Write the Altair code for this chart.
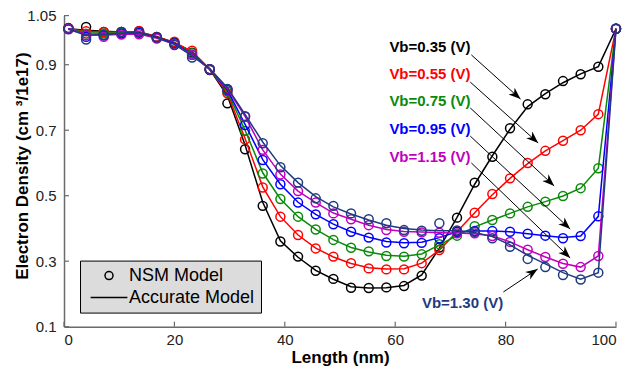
import math
import altair as alt
import pandas as pd

# ---------------- data ----------------
X_NM = [0.8, 4.0, 7.2, 10.4, 13.6, 16.8, 20.0, 23.2, 26.4, 29.6, 32.8, 36.0,
        39.2, 42.4, 45.6, 48.8, 52.0, 55.2, 58.4, 61.6, 64.8, 68.0, 71.2, 74.4,
        77.6, 80.8, 84.0, 87.2, 90.4, 93.6, 96.8, 100.0]

SERIES = ["Vb=0.35 (V)", "Vb=0.55 (V)", "Vb=0.75 (V)", "Vb=0.95 (V)", "Vb=1.15 (V)", "Vb=1.30 (V)"]
COLORS = ["#000000", "#ff0000", "#0a8a0a", "#0000ff", "#bf00bf", "#1f3a80"]

# NSM model (circles)
NSM_035 = [1.012, 1.015, 1.000, 1.000, 1.002, 0.985, 0.968, 0.937, 0.884, 0.782, 0.642, 0.469,
           0.360, 0.314, 0.271, 0.246, 0.219, 0.218, 0.220, 0.224, 0.256, 0.342, 0.433, 0.540,
           0.619, 0.706, 0.779, 0.810, 0.850, 0.871, 0.894, 1.010]
NSM_055 = [1.010, 1.002, 1.000, 1.000, 1.003, 0.985, 0.970, 0.943, 0.886, 0.813, 0.672, 0.525,
           0.436, 0.380, 0.339, 0.314, 0.294, 0.278, 0.275, 0.275, 0.294, 0.334, 0.390, 0.448,
           0.505, 0.553, 0.600, 0.637, 0.668, 0.700, 0.749, 1.010]
NSM_075 = [1.010, 0.995, 0.995, 0.998, 0.998, 0.983, 0.965, 0.935, 0.886, 0.818, 0.698, 0.568,
           0.490, 0.436, 0.397, 0.365, 0.341, 0.330, 0.316, 0.314, 0.321, 0.352, 0.378, 0.407,
           0.426, 0.446, 0.466, 0.482, 0.499, 0.523, 0.584, 1.010]
NSM_095 = [1.010, 0.985, 0.990, 0.995, 0.998, 0.983, 0.965, 0.930, 0.886, 0.823, 0.716, 0.609,
           0.535, 0.479, 0.443, 0.413, 0.390, 0.372, 0.357, 0.355, 0.356, 0.370, 0.390, 0.392,
           0.392, 0.390, 0.384, 0.378, 0.370, 0.377, 0.437, 1.010]
NSM_115 = [1.010, 0.990, 0.985, 0.992, 0.993, 0.980, 0.963, 0.930, 0.886, 0.825, 0.741, 0.640,
           0.565, 0.514, 0.479, 0.446, 0.428, 0.410, 0.395, 0.390, 0.388, 0.387, 0.385, 0.385,
           0.377, 0.359, 0.335, 0.313, 0.292, 0.282, 0.316, 1.010]
NSM_130 = [1.008, 0.977, 0.990, 1.000, 1.000, 0.983, 0.960, 0.922, 0.886, 0.826, 0.743, 0.660,
           0.587, 0.540, 0.492, 0.469, 0.446, 0.428, 0.416, 0.395, 0.393, 0.416, 0.394, 0.390,
           0.370, 0.344, 0.307, 0.282, 0.258, 0.244, 0.265, 1.010]

# Accurate model (lines)
ACC_035 = [1.010, 1.005, 1.002, 1.000, 1.000, 0.986, 0.967, 0.940, 0.886, 0.805, 0.655, 0.480,
           0.362, 0.312, 0.272, 0.245, 0.222, 0.218, 0.219, 0.226, 0.258, 0.340, 0.434, 0.535,
           0.622, 0.703, 0.772, 0.812, 0.845, 0.872, 0.894, 1.010]
ACC_055 = [1.010, 1.002, 1.000, 1.000, 1.001, 0.985, 0.968, 0.940, 0.886, 0.812, 0.675, 0.527,
           0.436, 0.380, 0.340, 0.313, 0.293, 0.280, 0.276, 0.277, 0.294, 0.334, 0.390, 0.448,
           0.503, 0.553, 0.598, 0.637, 0.668, 0.700, 0.749, 1.010]
ACC_075 = [1.010, 0.998, 0.996, 0.998, 0.998, 0.983, 0.965, 0.935, 0.886, 0.818, 0.700, 0.570,
           0.490, 0.436, 0.397, 0.366, 0.342, 0.328, 0.318, 0.315, 0.322, 0.350, 0.378, 0.405,
           0.426, 0.446, 0.466, 0.482, 0.499, 0.523, 0.584, 1.010]
ACC_095 = [1.010, 0.992, 0.992, 0.995, 0.997, 0.983, 0.965, 0.932, 0.886, 0.823, 0.718, 0.610,
           0.535, 0.480, 0.443, 0.413, 0.390, 0.373, 0.360, 0.356, 0.358, 0.372, 0.390, 0.392,
           0.392, 0.390, 0.384, 0.378, 0.372, 0.377, 0.437, 1.010]
ACC_115 = [1.010, 0.992, 0.990, 0.993, 0.994, 0.981, 0.963, 0.930, 0.886, 0.826, 0.742, 0.640,
           0.566, 0.514, 0.479, 0.447, 0.428, 0.410, 0.397, 0.391, 0.389, 0.387, 0.386, 0.384,
           0.377, 0.359, 0.335, 0.313, 0.293, 0.282, 0.316, 1.010]
ACC_130 = [1.008, 0.990, 0.992, 0.995, 0.997, 0.983, 0.962, 0.927, 0.888, 0.830, 0.748, 0.664,
           0.592, 0.540, 0.497, 0.466, 0.444, 0.426, 0.410, 0.400, 0.395, 0.393, 0.393, 0.388,
           0.375, 0.350, 0.318, 0.292, 0.265, 0.245, 0.265, 1.010]

NSM = [NSM_035, NSM_055, NSM_075, NSM_095, NSM_115, NSM_130]
ACC = [ACC_035, ACC_055, ACC_075, ACC_095, ACC_115, ACC_130]

# annotations (label centre, arrow start -> arrow tip), data units
LABEL_X = [66.3, 66.3, 66.3, 66.3, 66.3, 72.2]
LABEL_Y = [0.953, 0.872, 0.790, 0.704, 0.619, 0.173]
ARROW_X0 = [73.8, 73.6, 73.6, 73.6, 73.8, 79.6]
ARROW_Y0 = [0.930, 0.847, 0.768, 0.682, 0.600, 0.206]
ARROW_X1 = [82.7, 85.9, 88.8, 91.7, 91.7, 85.8]
ARROW_Y1 = [0.795, 0.661, 0.530, 0.398, 0.310, 0.276]

X_TICKS = [0, 20, 40, 60, 80, 100]
Y_TICKS = [0.1, 0.3, 0.5, 0.7, 0.9, 1.05]
LEGEND_LABELS = ["NSM Model", "Accurate Model"]

# ---------------- styling ----------------
W, H = 552, 311.1
X_DOM = [0, 100]
Y_DOM = [0.1, 1.05]
FONT = "Liberation Sans"
AXIS_GRAY = "#6b6b6b"
LEGEND_SHAPES = ["circle", "M-4.6,0L4.6,0"]
ARROW_PATH = "M0,0L-0.38,1L0,0.72L0.38,1Z"

xscale = alt.Scale(domain=X_DOM, nice=False, zero=False)
yscale = alt.Scale(domain=Y_DOM, nice=False, zero=False)

xaxis = alt.Axis(values=X_TICKS, format="d", ticks=False, grid=False,
                 domainColor=AXIS_GRAY, domainWidth=1.5,
                 labelFont=FONT, labelFontSize=15, labelColor="#222222", labelPadding=6,
                 title="Length (nm)", titleFont=FONT, titleFontSize=17, titleFontWeight="bold",
                 titleColor="#000000", titleBaseline="alphabetic", titleY=36)
yaxis = alt.Axis(values=Y_TICKS, format=".2~f", ticks=False, grid=False,
                 domainColor=AXIS_GRAY, domainWidth=1.5,
                 labelFont=FONT, labelFontSize=15, labelColor="#222222", labelPadding=8,
                 title="Electron Density (cm \u00b3/1e17)", titleFont=FONT, titleFontSize=17,
                 titleFontWeight="bold", titleColor="#000000", titleAngle=270,
                 titleAlign="center", titleBaseline="alphabetic", titleX=-37, titleY=150)


def xenc(field="x"):
    return alt.X(f"{field}:Q", scale=xscale, axis=xaxis)


def yenc(field="y"):
    return alt.Y(f"{field}:Q", scale=yscale, axis=yaxis)


layers = []
for name, color, nsm, acc in zip(SERIES, COLORS, NSM, ACC):
    df_line = pd.DataFrame({"x": X_NM, "y": acc})
    df_pts = pd.DataFrame({"x": X_NM, "y": nsm})
    layers.append(alt.Chart(df_line).mark_line(color=color, strokeWidth=1.5)
                  .encode(x=xenc(), y=yenc()))
    layers.append(alt.Chart(df_pts).mark_point(shape="circle", filled=False, color=color,
                                               size=80, strokeWidth=1.5, opacity=1)
                  .encode(x=xenc(), y=yenc()))

# arrows
PPX = W / (X_DOM[1] - X_DOM[0])
PPY = H / (Y_DOM[1] - Y_DOM[0])
angles = [math.degrees(math.atan2((x1 - x0) * PPX, (y1 - y0) * PPY)) % 360
          for x0, y0, x1, y1 in zip(ARROW_X0, ARROW_Y0, ARROW_X1, ARROW_Y1)]
arrow_df = pd.DataFrame({"x": ARROW_X0, "y": ARROW_Y0, "x2": ARROW_X1, "y2": ARROW_Y1,
                         "angle": angles})
layers.append(alt.Chart(arrow_df).mark_rule(color="black", strokeWidth=1)
              .encode(x=xenc(), y=yenc(), x2="x2:Q", y2="y2:Q"))
head_df = pd.DataFrame({"x": ARROW_X1, "y": ARROW_Y1, "angle": angles})
layers.append(alt.Chart(head_df).mark_point(shape=ARROW_PATH, filled=True, color="black",
                                            size=576, opacity=1, strokeWidth=0)
              .encode(x=xenc(), y=yenc(), angle=alt.Angle("angle:Q", scale=None)))

label_df = pd.DataFrame({"x": LABEL_X, "y": LABEL_Y, "text": SERIES, "color": COLORS})
layers.append(alt.Chart(label_df).mark_text(font=FONT, fontSize=15, fontWeight="bold",
                                            align="center", baseline="middle")
              .encode(x=xenc(), y=yenc(), text="text:N", color=alt.Color("color:N", scale=None)))

# inward tick marks
layers.append(alt.Chart(pd.DataFrame({"y": Y_TICKS})).mark_tick(
    orient="horizontal", size=5, thickness=1.2, color=AXIS_GRAY, opacity=1)
    .encode(y=yenc(), x=alt.value(2.5)))
layers.append(alt.Chart(pd.DataFrame({"x": X_TICKS})).mark_tick(
    orient="vertical", size=5, thickness=1.2, color=AXIS_GRAY, opacity=1)
    .encode(x=xenc(), y=alt.value(H - 2.5)))

# legend (symbols only; no drawn points)
leg_df = pd.DataFrame({"model": LEGEND_LABELS, "x": [None, None], "y": [None, None]})
layers.append(alt.Chart(leg_df).mark_point(filled=False, color="black", strokeWidth=1.5, opacity=1)
              .encode(x=xenc(), y=yenc(),
                      shape=alt.Shape("model:N",
                                      scale=alt.Scale(domain=LEGEND_LABELS, range=LEGEND_SHAPES),
                                      legend=alt.Legend(title=None, orient="none", legendX=16,
                                                        legendY=245, fillColor="#dcdcdc",
                                                        strokeColor="#000000", padding=6,
                                                        labelFont=FONT, labelFontSize=18,
                                                        labelColor="#000000", labelOffset=11,
                                                        symbolOffset=14, symbolSize=64,
                                                        symbolStrokeColor="#000000",
                                                        symbolStrokeWidth=1.5,
                                                        symbolFillColor="transparent",
                                                        rowPadding=4))))

chart = alt.layer(*layers).properties(
    width=W, height=H,
    autosize=alt.AutoSizeParams(type="none"),
    padding={"left": 56, "top": 7.6, "right": 14, "bottom": 42},
).configure_view(strokeWidth=0)

chart.save("out.html", embed_options={"renderer": "svg", "actions": False})
